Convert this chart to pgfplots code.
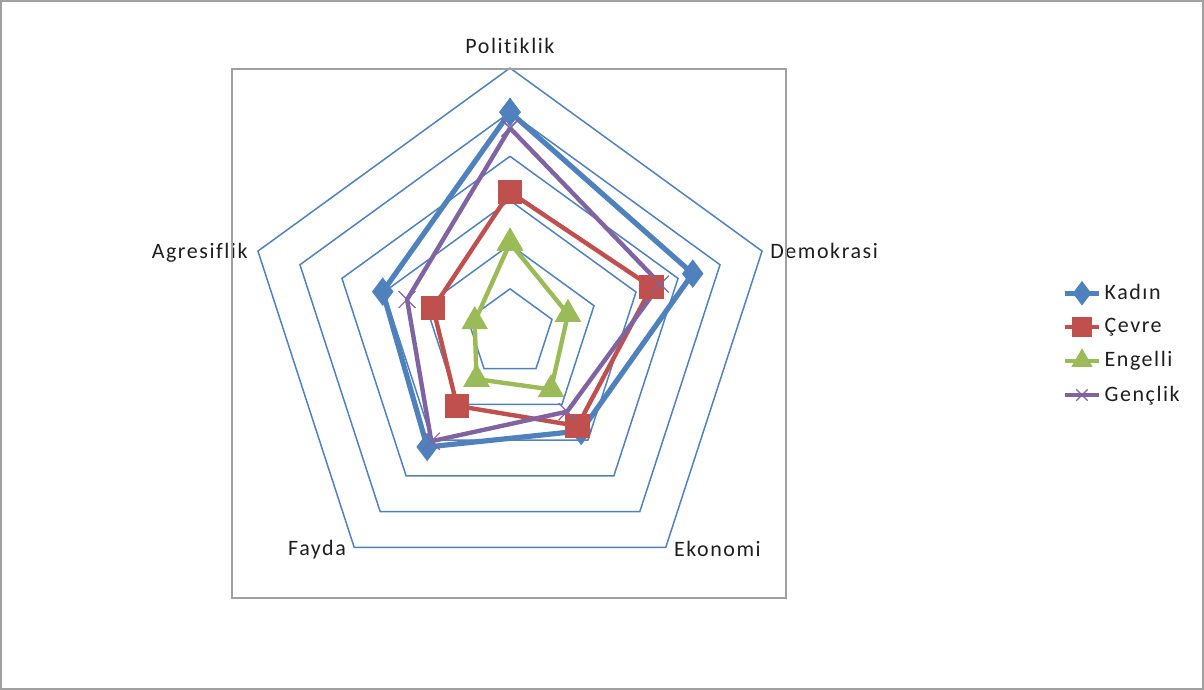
\documentclass[border=0pt]{standalone}
\usepackage{pgfplots}
\pgfplotsset{compat=1.18}
\usepgfplotslibrary{polar}
\usepackage{fontspec}
\setmainfont{Carlito}[LetterSpace=7, Ligatures=CommonOff]
\definecolor{gridblue}{RGB}{79,129,189}
\definecolor{kadin}{RGB}{79,129,189}
\definecolor{cevre}{RGB}{192,80,77}
\definecolor{engelli}{RGB}{155,187,89}
\definecolor{genclik}{RGB}{128,100,162}
\definecolor{framegray}{RGB}{160,160,160}
\definecolor{txt}{RGB}{30,30,30}
\begin{document}
\begin{tikzpicture}
\begin{polaraxis}[
  width=265pt, scale only axis,
  xmin=0, xmax=360, ymin=0, ymax=6,
  xtick=\empty, ytick=\empty,
  axis line style={draw=none},
  clip=false,
  font=\fontsize{11}{13}\selectfont,
  legend style={draw=none, fill=none, at={(1.530,0.479)}, anchor=west,
    row sep=4pt, font=\fontsize{11}{13}\selectfont, text=txt,
    nodes={inner xsep=1.5pt}},
  legend cell align=left,
  legend image post style={mark size=4pt},
]
\coordinate (c) at (axis cs:0,0);
% grid rings
\foreach \k in {1,...,6}{
  \edef\temp{\noexpand\addplot[gridblue, line width=0.75pt, forget plot] coordinates {(90,\k) (18,\k) (-54,\k) (-126,\k) (162,\k) (90,\k)};}
  \temp
}
\addplot[kadin, line width=2.6pt, mark=diamond*, mark size=5pt, mark options={solid}]
  coordinates {(90,5.0) (18,4.35) (-54,2.74) (-126,3.19) (162,3.03) (90,5.0)};
\addlegendentry{Kadın}
\addplot[cevre, line width=2.2pt, mark=square*, mark size=5pt]
  coordinates {(90,3.19) (18,3.37) (-54,2.6) (-126,2.04) (162,1.83) (90,3.19)};
\addlegendentry{Çevre}
\addplot[engelli, line width=2.2pt, mark=triangle*, mark size=5.5pt]
  coordinates {(90,2.04) (18,1.38) (-54,1.58) (-126,1.29) (162,0.84) (90,2.04)};
\addlegendentry{Engelli}
\addplot[genclik, line width=2.2pt, mark=x, mark size=6pt, mark options={line width=0.6pt}]
  coordinates {(90,4.64) (18,3.58) (-54,2.2) (-126,3.03) (162,2.45) (90,4.64)};
\addlegendentry{Gençlik}
\node[anchor=south, inner sep=0pt, yshift=7pt, text=txt] at (axis cs:90,6) {Politiklik};
\node[anchor=west, inner sep=0pt, xshift=4pt, text=txt] at (axis cs:18,6) {Demokrasi};
\node[anchor=west, inner sep=0pt, xshift=4pt, yshift=-1pt, text=txt] at (axis cs:-54,6) {Ekonomi};
\node[anchor=east, inner sep=0pt, xshift=-4pt, yshift=-1pt, text=txt] at (axis cs:-126,6) {Fayda};
\node[anchor=east, inner sep=0pt, xshift=-5pt, yshift=-1pt, text=txt] at (axis cs:162,6) {Agresiflik};
\end{polaraxis}
\draw[framegray, line width=0.6pt, shift={(c)}] (-139pt,132pt) rectangle (138pt,-132.5pt);
\draw[framegray, line width=0.8pt, shift={(c)}] (-254.6pt,166.1pt) rectangle (346.6pt,-177.9pt);
\end{tikzpicture}
\end{document}
